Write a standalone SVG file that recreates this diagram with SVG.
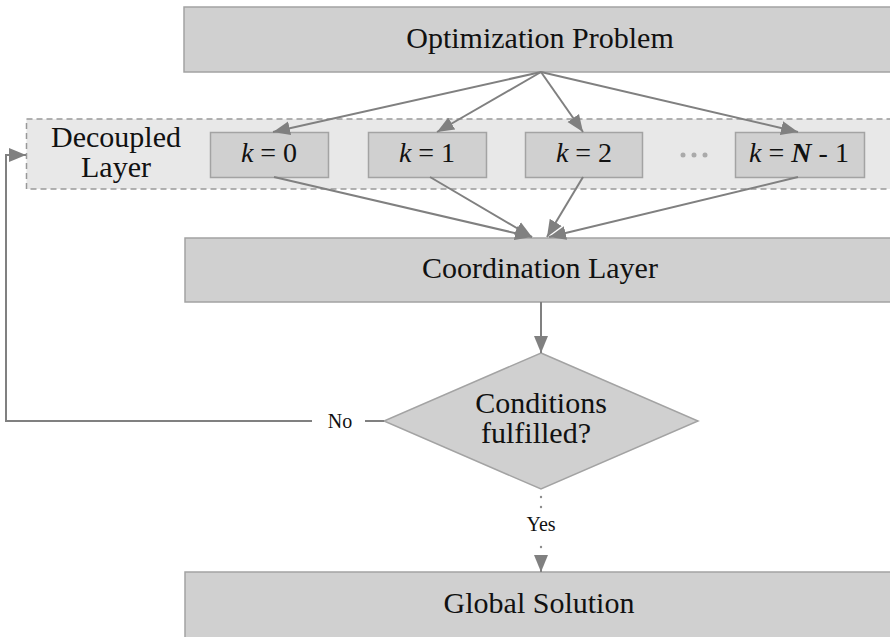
<svg xmlns="http://www.w3.org/2000/svg" width="890" height="637" viewBox="0 0 890 637" font-family="'Liberation Serif', 'DejaVu Serif', 'Times New Roman', serif">
<defs>
<style>
.box{fill:#d0d0d0;stroke:#a3a3a3;stroke-width:1.5}
.t{font-family:'Liberation Serif','DejaVu Serif','Times New Roman',serif;font-size:30px;fill:#111;text-anchor:middle}
.k{font-family:'Liberation Serif','DejaVu Serif','Times New Roman',serif;font-size:28px;fill:#111;text-anchor:middle}
.s{font-family:'Liberation Serif','DejaVu Serif','Times New Roman',serif;font-size:20px;fill:#111;text-anchor:middle}
.c{fill:none;stroke:#808080;stroke-width:2}
.dot{fill:#8c8c8c}
</style>
<marker id="ah" markerUnits="userSpaceOnUse" markerWidth="18" markerHeight="16" viewBox="0 0 18 16" refX="17" refY="8" orient="auto">
<path d="M0,1 L17,8 L0,15 Z" fill="#808080"/>
</marker>
</defs>
<rect width="890" height="637" fill="#fff"/>

<g id="decoupled-layer">
<rect x="26.5" y="119" width="880" height="70" fill="#e8e8e8" stroke="#999" stroke-width="1.5" stroke-dasharray="6 4"/>
<text class="t" x="116" y="147">Decoupled</text>
<text class="t" x="116" y="177">Layer</text>
</g>

<g id="optimization-problem">
<rect class="box" x="184" y="7" width="720" height="65"/>
<text class="t" x="540" y="48">Optimization Problem</text>
</g>

<g id="k0">
<rect class="box" x="210.5" y="132.5" width="118" height="45"/>
<text class="k" x="269" y="162"><tspan font-style="italic">k</tspan> = 0</text>
</g>
<g id="k1">
<rect class="box" x="368.5" y="132.5" width="118" height="45"/>
<text class="k" x="427" y="162"><tspan font-style="italic">k</tspan> = 1</text>
</g>
<g id="k2">
<rect class="box" x="525.5" y="132.5" width="117" height="45"/>
<text class="k" x="584" y="162"><tspan font-style="italic">k</tspan> = 2</text>
</g>
<g id="dots">
<circle cx="683" cy="155" r="2.5" fill="#aaa"/>
<circle cx="694" cy="155" r="2.5" fill="#aaa"/>
<circle cx="705" cy="155" r="2.5" fill="#aaa"/>
</g>
<g id="kN1">
<rect class="box" x="735.5" y="132.5" width="129" height="45"/>
<text class="k" x="799" y="162"><tspan font-style="italic">k</tspan> = <tspan font-style="italic" font-weight="bold">N</tspan> - 1</text>
</g>

<g id="coordination-layer">
<rect class="box" x="185" y="238" width="720" height="64"/>
<text class="t" x="540" y="278">Coordination Layer</text>
</g>

<g id="conditions">
<polygon points="541,353 698,421 541,489 384,421" fill="#d0d0d0" stroke="#a3a3a3" stroke-width="1.5"/>
<text class="t" x="541" y="413">Conditions</text>
<text class="t" x="536" y="443">fulfilled?</text>
</g>

<g id="global-solution">
<rect class="box" x="185" y="572" width="720" height="70"/>
<text class="t" x="539" y="613">Global Solution</text>
</g>

<g id="connectors">
<line class="c" x1="541" y1="72" x2="273" y2="132" marker-end="url(#ah)"/>
<line class="c" x1="541" y1="72" x2="437" y2="132" marker-end="url(#ah)"/>
<line class="c" x1="541" y1="72" x2="583" y2="132" marker-end="url(#ah)"/>
<line class="c" x1="541" y1="72" x2="798" y2="132" marker-end="url(#ah)"/>
<line class="c" x1="274" y1="177" x2="532" y2="237" marker-end="url(#ah)"/>
<line class="c" x1="430" y1="177" x2="532" y2="237" marker-end="url(#ah)"/>
<line class="c" x1="583" y1="177" x2="547" y2="237" marker-end="url(#ah)"/>
<line class="c" x1="798" y1="177" x2="549" y2="237" marker-end="url(#ah)"/>
<line class="c" x1="541" y1="302" x2="541" y2="353" marker-end="url(#ah)"/>
<polyline class="c" points="312,421 6,421 6,155 26,155" marker-end="url(#ah)"/>
<line class="c" x1="365" y1="421" x2="384" y2="421"/>
<text class="s" x="340" y="428">No</text>
<circle class="dot" cx="541" cy="497" r="1.2"/>
<circle class="dot" cx="541" cy="507" r="1.2"/>
<text class="s" x="541" y="531">Yes</text>
<circle class="dot" cx="541" cy="547" r="1.2"/>
<line class="c" x1="541" y1="556" x2="541" y2="572" marker-end="url(#ah)"/>
</g>
</svg>
